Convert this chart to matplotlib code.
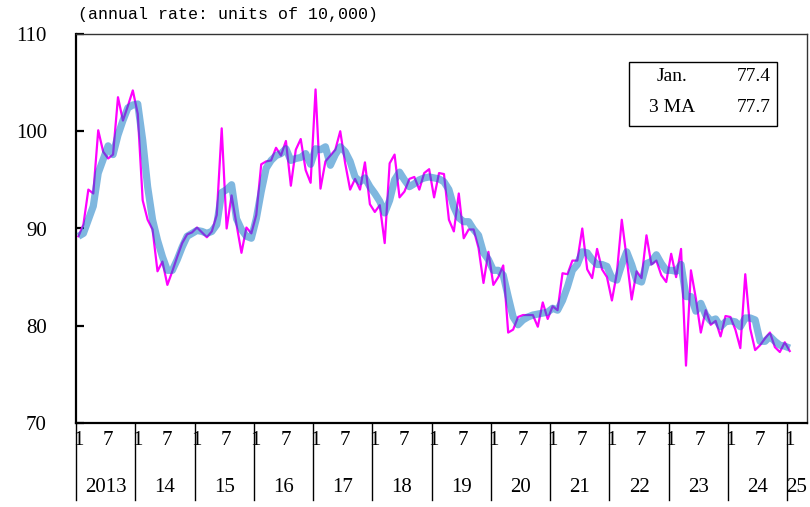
import matplotlib
matplotlib.use("Agg")
import matplotlib.pyplot as plt
import matplotlib.transforms as mtransforms
from matplotlib.patches import Rectangle
import numpy as np

# monthly housing starts, annual rate (10,000 units), Jan 2013 - Jan 2025
monthly = [
    89.2, 90.4, 94.0, 93.6, 100.1, 97.9, 97.2, 97.6, 103.5, 101.1, 102.6, 104.2,
    101.8, 92.9, 90.9, 89.9, 85.6, 86.6, 84.2, 85.6, 87.1, 88.5, 89.4, 89.6,
    90.1, 89.6, 89.1, 89.7, 91.4, 100.3, 90.0, 93.4, 90.4, 87.5, 90.1, 89.5,
    91.4, 96.6, 96.9, 97.0, 98.3, 97.5, 99.0, 94.4, 98.1, 99.2, 96.0, 94.7,
    104.3, 94.1, 96.9, 97.5, 98.1, 100.0, 96.7, 94.0, 95.1, 94.0, 96.8, 92.5,
    91.7, 92.4, 88.5, 96.7, 97.6, 93.2, 93.8, 95.1, 95.3, 94.0, 95.7, 96.1,
    93.2, 95.7, 95.6, 90.9, 89.7, 93.6, 89.0, 89.9, 89.9, 88.0, 84.4, 87.6,
    84.2, 85.0, 86.2, 79.3, 79.6, 80.9, 81.1, 81.1, 81.1, 79.9, 82.4, 80.7,
    82.0, 81.6, 85.4, 85.3, 86.7, 86.7, 90.0, 85.8, 84.9, 87.9, 85.8, 85.0,
    82.6, 85.4, 90.9, 86.9, 82.7, 85.6, 84.9, 89.3, 86.3, 86.7, 85.2, 84.5,
    87.4, 85.0, 87.9, 75.9, 85.7, 82.8, 79.3, 81.6, 80.1, 80.5, 78.9, 81.0,
    80.9, 79.6, 77.7, 85.3, 79.7, 77.5, 78.0, 78.7, 79.3, 77.8, 77.3, 78.3,
    77.4,
]

# 3-month moving average
ma3 = [
    89.2, 89.5, 90.9, 92.3, 95.7, 97.1, 98.5, 97.6, 99.6, 101.1, 102.4, 102.7,
    102.8, 99.1, 94.3, 90.9, 88.8, 87.1, 85.7, 85.7, 86.8, 88.1, 89.2, 89.5,
    89.8, 89.7, 89.5, 89.7, 90.4, 93.7, 94.0, 94.5, 91.0, 89.9, 89.2, 89.0,
    91.0, 93.8, 96.2, 97.0, 97.5, 97.7, 98.2, 97.0, 97.2, 97.3, 97.7, 96.6,
    98.2, 98.1, 98.4, 96.5, 97.6, 98.4, 97.9, 96.9, 95.3, 94.8, 95.2, 94.3,
    93.6, 92.8, 91.6, 92.9, 95.0, 95.8, 95.0, 94.3, 94.6, 95.0, 95.2, 95.3,
    95.2, 95.1, 94.8, 94.0, 92.2, 91.1, 90.7, 90.7, 89.9, 89.3, 87.5, 86.8,
    85.7, 85.7, 85.2, 83.0, 80.9, 80.1, 80.6, 80.9, 81.1, 81.2, 81.3, 81.4,
    81.8, 81.6, 82.6, 84.0, 85.7, 86.3, 87.6, 87.5, 86.8, 86.3, 86.3, 86.1,
    84.9, 84.7, 86.3, 87.6, 86.3, 84.7, 84.5, 86.4, 86.6, 87.3, 86.4, 85.7,
    85.7, 85.6, 86.3, 83.0, 83.0, 81.5, 82.3, 81.1, 80.5, 80.7, 79.9, 80.4,
    80.5, 80.4, 79.9, 80.8, 80.8, 80.6, 78.4, 78.4, 78.9, 78.4, 78.0, 77.9,
    77.7,
]

year_labels = ["2013", "14", "15", "16", "17", "18", "19", "20", "21", "22", "23", "24", "25"]
month_labels = ["1", "7"]
y_ticks = [70, 80, 90, 100, 110]
legend_rows = [("Jan.", "77.4"), ("3 MA", "77.7")]

serif = ["Liberation Serif", "DejaVu Serif"]

fig = plt.figure(figsize=(8.1, 5.07), dpi=100)
ax = fig.add_axes([76 / 810, 84 / 507, 731 / 810, 389 / 507])

x = np.arange(len(monthly)) + 0.5
ax.plot(x, monthly, color="#FF00FF", lw=1.6, zorder=2)
ax.plot(x, ma3, color="#0070C0", alpha=0.5, lw=5.2, solid_joinstyle="round",
        solid_capstyle="butt", zorder=3)

ax.set_xlim(0, 148)
ax.set_ylim(70, 110)
ax.set_yticks(y_ticks)
ax.set_yticklabels([str(v) for v in y_ticks], family=serif, fontsize=15)
ax.tick_params(axis="y", direction="in", length=6, width=1.6, pad=21)
ax.set_xticks([])

for side in ["left", "bottom"]:
    ax.spines[side].set_color("black")
    ax.spines[side].set_linewidth(1.6)
for side in ["top", "right"]:
    ax.spines[side].set_color("#333333")
    ax.spines[side].set_linewidth(1.0)

# month / year labels below the axis
trans = mtransforms.blended_transform_factory(ax.transData, ax.transAxes)
for k, year in enumerate(year_labels):
    start = k * 12
    ax.plot([start, start], [0, -0.198], transform=trans, color="black",
            lw=1.0, clip_on=False)
    ax.text(start + 0.4, -0.045, month_labels[0], transform=trans, ha="center",
            va="center", family=serif, fontsize=15)
    if start + 6 < 148:
        ax.text(start + 6.4, -0.045, month_labels[1], transform=trans, ha="center",
                va="center", family=serif, fontsize=15)
    xpos = start + 6 if start + 12 <= 148 else 145.9
    ax.text(xpos, -0.167, year, transform=trans, ha="center", va="center",
            family=serif, fontsize=15)

# unit note
fig.text(78 / 810, 1 - 15 / 507, "(annual rate: units of 10,000)",
         family=["Liberation Mono", "DejaVu Sans Mono"], fontsize=12,
         ha="left", va="center")

# latest values box
box_x0 = (629 - 76) / 731
box_y0 = (423 - 126) / 389
box_w = (777 - 629) / 731
box_h = (126 - 62) / 389
ax.add_patch(Rectangle((box_x0, box_y0), box_w, box_h, transform=ax.transAxes,
                       fill=True, facecolor="white", edgecolor="black", lw=1.0,
                       zorder=5))
for r, (name, val) in enumerate(legend_rows):
    ypix = 77 + r * 31
    yy = (423 - ypix) / 389
    ax.text((672 - 76) / 731, yy, name, transform=ax.transAxes, ha="center",
            va="center", family=serif, fontsize=14, zorder=6)
    ax.text((771 - 76) / 731, yy, val, transform=ax.transAxes, ha="right",
            va="center", family=serif, fontsize=14, zorder=6)

fig.savefig("out.png", dpi=100)
